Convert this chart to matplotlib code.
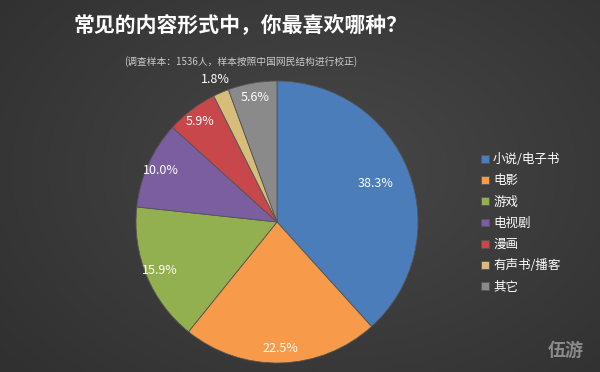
import numpy as np
import matplotlib.pyplot as plt

plt.rcParams['font.family'] = ['Noto Sans CJK SC', 'DejaVu Sans']

# data
categories = ['小说/电子书', '电影', '游戏', '电视剧', '漫画', '有声书/播客', '其它']
shares = [38.3, 22.5, 15.9, 10.0, 5.9, 1.8, 5.6]
colors = ['#4A7DBA', '#F79A4A', '#93B050', '#7A5EA0', '#C8474B', '#D6BE7A', '#8A8A8A']

title = '常见的内容形式中，你最喜欢哪种？'
subtitle = '(调查样本：1536人，样本按照中国网民结构进行校正)'

fig = plt.figure(figsize=(6, 3.72), dpi=100)

# dark background with soft radial lightening
bg = fig.add_axes([0, 0, 1, 1])
yy, xx = np.mgrid[0:372, 0:600]
d = np.sqrt(((xx - 330) / 420.0) ** 2 + ((yy - 170) / 300.0) ** 2)
shade = 0.28 - 0.09 * np.clip(d, 0, 1)
bg.imshow(np.dstack([shade, shade, shade]), extent=[0, 1, 0, 1], aspect='auto')
bg.set_axis_off()

ax = fig.add_axes([136 / 600, 1 - 363 / 372, 282 / 600, 282 / 372])
wedges, _ = ax.pie(shares, colors=colors, startangle=90, counterclock=False,
                   wedgeprops=dict(edgecolor='#555555', linewidth=0.6))
ax.set_xlim(-1, 1)
ax.set_ylim(-1, 1)
ax.set_aspect('equal')

# percentage labels
for w, v in zip(wedges, shares):
    ang = np.deg2rad((w.theta1 + w.theta2) / 2)
    r = 0.9
    if v < 3:
        r = 1.1
    elif v > 30:
        r = 0.75
    ax.text(r * np.cos(ang), r * np.sin(ang), f'{v:.1f}%', ha='center', va='center',
            color='white', fontsize=9, clip_on=False)

ax.legend(wedges, categories, loc='center left', bbox_to_anchor=(334 / 282, 0.495),
          frameon=False, labelcolor='white', fontsize=9, handlelength=0.6, handleheight=0.6,
          handletextpad=0.35, labelspacing=0.66)

fig.text(241 / 600, 1 - 26 / 372, title, ha='center', va='center', color='white',
         fontsize=15, fontweight='bold')
fig.text(241 / 600, 1 - 62 / 372, subtitle, ha='center', va='center', color='#cccccc',
         fontsize=7)
fig.text(566 / 600, 1 - 350 / 372, '伍游', ha='center', va='center', color='#8a8a8a',
         fontsize=13, fontweight='bold')

fig.savefig('out.png', dpi=100)
